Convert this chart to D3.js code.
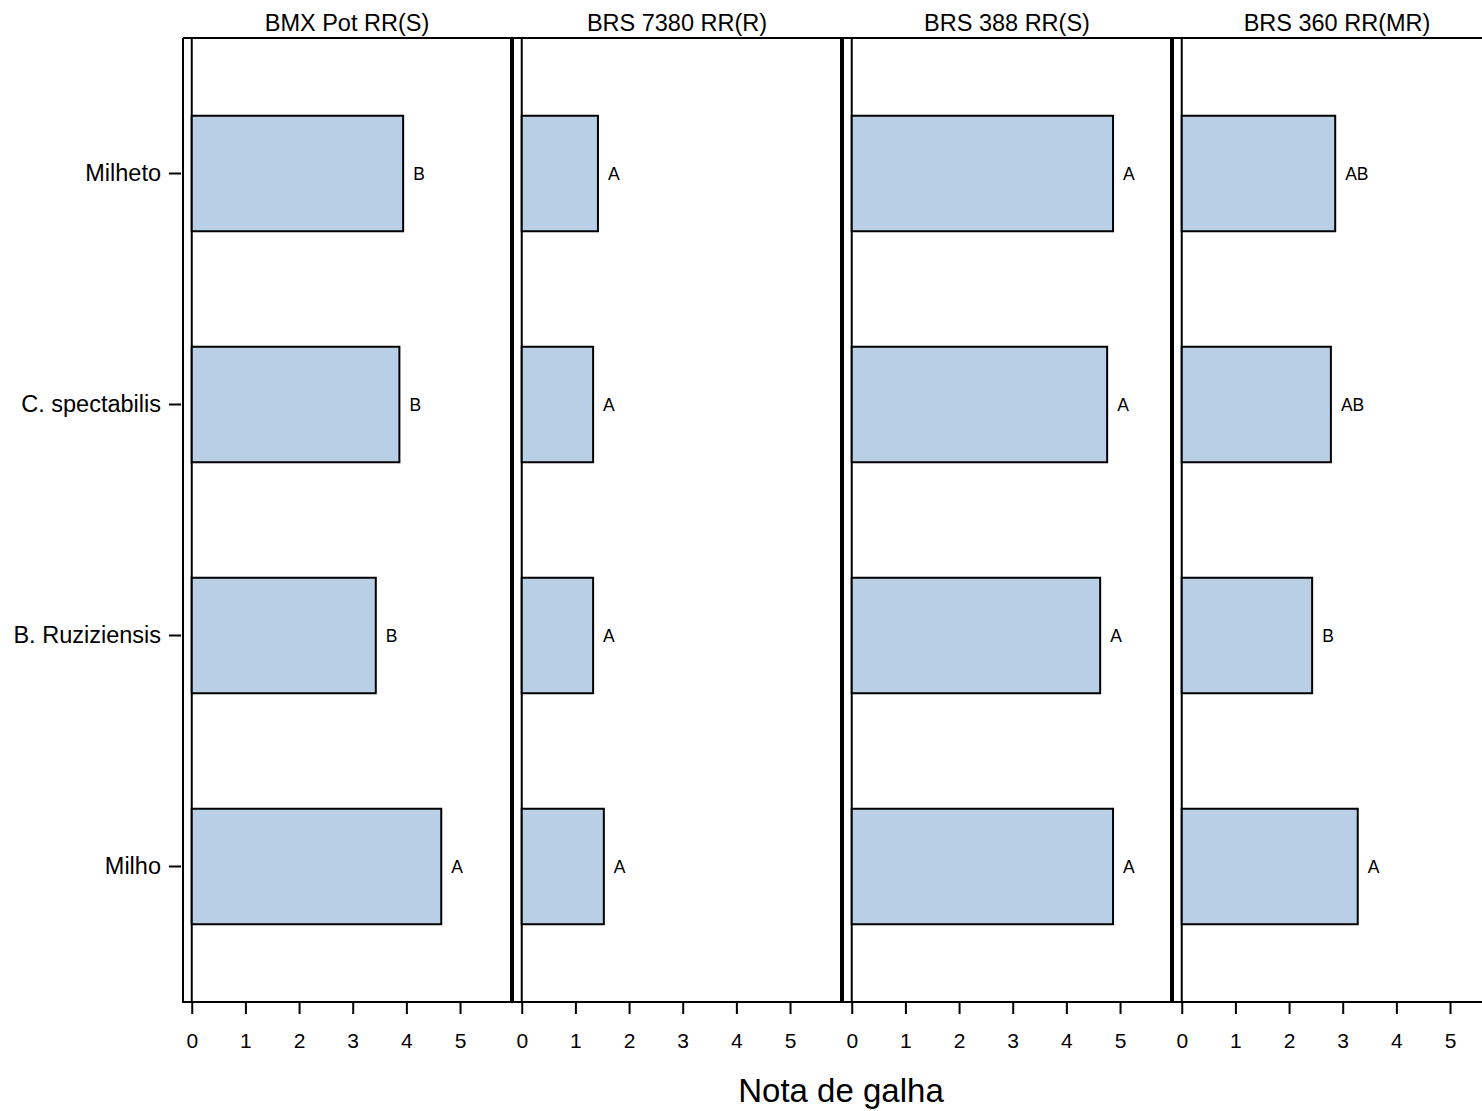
<!DOCTYPE html>
<html>
<head>
<meta charset="utf-8">
<script src="https://cdn.jsdelivr.net/npm/d3@7"></script>
<style>
html, body { margin: 0; padding: 0; background: #fff; }
svg { display: block; font-family: "Liberation Sans", Arial, sans-serif; }
</style>
</head>
<body>
<svg id="chart" width="1482" height="1111"></svg>
<script>
const categories = ["Milheto", "C. spectabilis", "B. Ruziziensis", "Milho"];
const panels = ["BMX Pot RR(S)", "BRS 7380 RR(R)", "BRS 388 RR(S)", "BRS 360 RR(MR)"];
const valuesBMX = [3.94, 3.87, 3.43, 4.65];
const valuesBRS7380 = [1.42, 1.33, 1.33, 1.53];
const valuesBRS388 = [4.87, 4.76, 4.63, 4.87];
const valuesBRS360 = [2.86, 2.78, 2.43, 3.28];
const lettersBMX = ["B", "B", "B", "A"];
const lettersBRS7380 = ["A", "A", "A", "A"];
const lettersBRS388 = ["A", "A", "A", "A"];
const lettersBRS360 = ["AB", "AB", "B", "A"];
const xTicks = [0, 1, 2, 3, 4, 5];
const xTitle = "Nota de galha";

(function () {
const seriesValues = [valuesBMX, valuesBRS7380, valuesBRS388, valuesBRS360];
const seriesLetters = [lettersBMX, lettersBRS7380, lettersBRS388, lettersBRS360];

const svg = d3.select("#chart");
const plotTop = 38, plotBottom = 1002;
const plotLeft = 183, panelStep = 330, panelW = 328;

const y = d3.scaleBand().domain(categories).range([58, 982]).paddingInner(0.5).paddingOuter(0.25);

svg.append("line").attr("x1", plotLeft).attr("x2", 1482).attr("y1", plotTop).attr("y2", plotTop)
  .attr("stroke", "#000").attr("stroke-width", 2);

panels.forEach((title, p) => {
  const left = plotLeft + p * panelStep;
  const x = d3.scaleLinear().domain([-0.163, 5.95]).range([left, left + panelW]);
  const g = svg.append("g");

  g.append("line").attr("x1", left).attr("x2", left).attr("y1", plotTop).attr("y2", plotBottom)
    .attr("stroke", "#000").attr("stroke-width", 2);
  g.append("line").attr("x1", left + panelW).attr("x2", left + panelW).attr("y1", plotTop).attr("y2", plotBottom)
    .attr("stroke", "#000").attr("stroke-width", 2);

  g.append("line").attr("x1", x(0)).attr("x2", x(0)).attr("y1", plotTop).attr("y2", plotBottom)
    .attr("stroke", "#000").attr("stroke-width", 2);

  g.append("text").attr("x", left + panelW / 2).attr("y", 31)
    .attr("text-anchor", "middle").attr("font-size", 23.5).attr("fill", "#000").text(title);

  const vals = seriesValues[p];
  const lets = seriesLetters[p];
  const data = categories.map((c, i) => ({ c, v: vals[i], l: lets[i] }));

  g.selectAll("rect.bar").data(data).enter().append("rect")
    .attr("class", "bar")
    .attr("x", x(0))
    .attr("y", d => y(d.c))
    .attr("width", d => x(d.v) - x(0))
    .attr("height", y.bandwidth())
    .attr("fill", "#b9cfe6")
    .attr("stroke", "#000")
    .attr("stroke-width", 2);

  g.selectAll("text.lbl").data(data).enter().append("text")
    .attr("class", "lbl")
    .attr("x", d => x(d.v) + 10)
    .attr("y", d => y(d.c) + y.bandwidth() / 2)
    .attr("dy", "0.35em")
    .attr("font-size", 17.5)
    .attr("fill", "#000")
    .text(d => d.l);

  const ax = svg.append("g").attr("transform", `translate(0,${plotBottom})`)
    .call(d3.axisBottom(x).tickValues(xTicks).tickFormat(d3.format("d")).tickSize(12).tickPadding(19).tickSizeOuter(0));
  ax.select(".domain").remove();
  ax.selectAll(".tick line").attr("stroke", "#000").attr("stroke-width", 2);
  ax.selectAll(".tick text").attr("font-size", 21).attr("font-family", "'Liberation Sans', Arial, sans-serif").attr("fill", "#000");
});

svg.append("line").attr("x1", plotLeft - 1).attr("x2", 1482).attr("y1", plotBottom).attr("y2", plotBottom)
  .attr("stroke", "#000").attr("stroke-width", 2);

const yAxis = svg.append("g").attr("transform", `translate(181,0)`)
  .call(d3.axisLeft(y).tickSize(12).tickPadding(8).tickSizeOuter(0));
yAxis.select(".domain").remove();
yAxis.selectAll(".tick line").attr("stroke", "#000").attr("stroke-width", 2);
yAxis.selectAll(".tick text").attr("font-size", 23.5).attr("font-family", "'Liberation Sans', Arial, sans-serif").attr("fill", "#000");

svg.append("text").attr("x", 841).attr("y", 1102).attr("text-anchor", "middle")
  .attr("font-size", 33).attr("fill", "#000").text(xTitle);
})();
</script>
</body>
</html>
